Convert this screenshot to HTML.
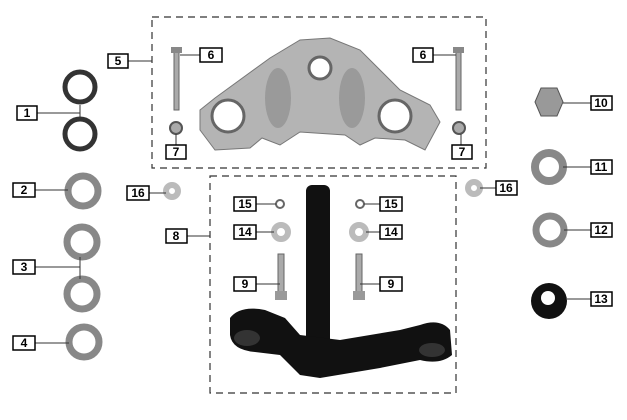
<!DOCTYPE html>
<html><head><style>
body{margin:0;background:#fff}
svg{display:block}
.l{fill:#fff;stroke:#000;stroke-width:1.5}
.t{font:bold 12px "Liberation Sans",sans-serif;text-anchor:middle}
.d{fill:none;stroke:#333;stroke-width:1.2;stroke-dasharray:7,5}
.c{stroke:#333;stroke-width:1}
</style></head><body>
<svg width="627" height="420" viewBox="0 0 627 420">
<rect class="d" x="152" y="17" width="334" height="151"/>
<rect class="d" x="210" y="176" width="246" height="217"/>
<!-- top clamp -->
<path d="M200 110 L215 98 L270 58 L300 40 L330 38 L360 50 L400 90 L430 105 L440 122 L425 150 L405 140 L375 138 L360 145 L345 135 L300 132 L280 145 L262 138 L250 148 L215 150 L200 130 Z" fill="#b4b4b4" stroke="#777"/>
<circle cx="228" cy="116" r="16" fill="#fff" stroke="#666" stroke-width="3"/>
<circle cx="395" cy="116" r="16" fill="#fff" stroke="#666" stroke-width="3"/>
<circle cx="320" cy="68" r="11" fill="#fff" stroke="#666" stroke-width="3"/>
<ellipse cx="278" cy="98" rx="13" ry="30" fill="#9a9a9a"/>
<ellipse cx="352" cy="98" rx="13" ry="30" fill="#9a9a9a"/>
<!-- bolts 6, nuts 7 -->
<rect x="174" y="50" width="5" height="60" fill="#aaa" stroke="#666"/><rect x="171" y="47" width="11" height="6" fill="#888"/>
<rect x="456" y="50" width="5" height="60" fill="#aaa" stroke="#666"/><rect x="453" y="47" width="11" height="6" fill="#888"/>
<circle cx="176" cy="128" r="6" fill="#aaa" stroke="#555" stroke-width="2"/>
<circle cx="459" cy="128" r="6" fill="#aaa" stroke="#555" stroke-width="2"/>
<!-- left parts -->
<circle cx="80" cy="87" r="15" fill="none" stroke="#333" stroke-width="5"/>
<circle cx="80" cy="134" r="15" fill="none" stroke="#333" stroke-width="5"/>
<circle cx="83" cy="191" r="15" fill="#fff" stroke="#888" stroke-width="7"/>
<circle cx="82" cy="242" r="15" fill="#fff" stroke="#888" stroke-width="7"/>
<circle cx="82" cy="294" r="15" fill="#fff" stroke="#888" stroke-width="7"/>
<circle cx="84" cy="342" r="15" fill="#fff" stroke="#888" stroke-width="7"/>
<circle cx="172" cy="191" r="6" fill="#fff" stroke="#bbb" stroke-width="6"/>
<circle cx="474" cy="188" r="6" fill="#fff" stroke="#bbb" stroke-width="6"/>
<!-- right parts -->
<polygon points="535,102 541,88 557,88 563,102 557,116 541,116" fill="#999" stroke="#555"/>
<circle cx="549" cy="167" r="14" fill="#fff" stroke="#888" stroke-width="8"/>
<circle cx="550" cy="230" r="14" fill="#fff" stroke="#888" stroke-width="7"/>
<circle cx="549" cy="301" r="18" fill="#111"/><circle cx="548" cy="298" r="7" fill="#fff"/>
<!-- lower assembly -->
<circle cx="280" cy="204" r="4" fill="none" stroke="#666" stroke-width="2"/>
<circle cx="360" cy="204" r="4" fill="none" stroke="#666" stroke-width="2"/>
<circle cx="281" cy="232" r="7" fill="#fff" stroke="#bbb" stroke-width="6"/>
<circle cx="359" cy="232" r="7" fill="#fff" stroke="#bbb" stroke-width="6"/>
<rect x="278" y="254" width="6" height="40" fill="#aaa" stroke="#666"/><rect x="275" y="291" width="12" height="9" fill="#999"/>
<rect x="356" y="254" width="6" height="40" fill="#aaa" stroke="#666"/><rect x="353" y="291" width="12" height="9" fill="#999"/>
<rect x="306" y="185" width="24" height="160" rx="6" fill="#111"/>
<path d="M230 318 Q240 305 265 310 L285 318 L300 335 L340 340 L400 330 L420 325 Q440 318 450 330 L452 355 Q440 365 420 360 L380 368 L320 378 L300 375 L280 355 L255 352 Q232 350 230 335 Z" fill="#111"/>
<ellipse cx="247" cy="338" rx="13" ry="8" fill="#333"/>
<ellipse cx="432" cy="350" rx="13" ry="7" fill="#333"/>
<!-- connectors -->
<g class="c">
<line x1="128" y1="61" x2="152" y2="61"/>
<line x1="180" y1="55" x2="200" y2="55"/>
<line x1="176" y1="134" x2="176" y2="145"/>
<line x1="37" y1="113" x2="80" y2="113"/><line x1="80" y1="105" x2="80" y2="119"/>
<line x1="35" y1="190" x2="68" y2="190"/>
<line x1="149" y1="193" x2="166" y2="193"/>
<line x1="35" y1="267" x2="80" y2="267"/><line x1="80" y1="257" x2="80" y2="279"/>
<line x1="35" y1="343" x2="69" y2="343"/>
<line x1="187" y1="236" x2="210" y2="236"/>
<line x1="256" y1="204" x2="276" y2="204"/><line x1="364" y1="204" x2="380" y2="204"/>
<line x1="256" y1="232" x2="274" y2="232"/><line x1="366" y1="232" x2="380" y2="232"/>
<line x1="256" y1="284" x2="280" y2="284"/><line x1="360" y1="284" x2="380" y2="284"/>
<line x1="433" y1="55" x2="456" y2="55"/>
<line x1="461" y1="134" x2="461" y2="145"/>
<line x1="480" y1="188" x2="496" y2="188"/>
<line x1="563" y1="103" x2="591" y2="103"/>
<line x1="563" y1="167" x2="591" y2="167"/>
<line x1="564" y1="230" x2="591" y2="230"/>
<line x1="567" y1="299" x2="591" y2="299"/>
</g>
<!-- labels -->
<g>
<rect class="l" x="108" y="54" width="20" height="14"/><text class="t" x="118" y="65">5</text>
<rect class="l" x="200" y="48" width="22" height="14"/><text class="t" x="211" y="59">6</text>
<rect class="l" x="166" y="145" width="20" height="14"/><text class="t" x="176" y="156">7</text>
<rect class="l" x="17" y="106" width="20" height="14"/><text class="t" x="27" y="117">1</text>
<rect class="l" x="13" y="183" width="22" height="14"/><text class="t" x="24" y="194">2</text>
<rect class="l" x="127" y="186" width="22" height="14"/><text class="t" x="138" y="197">16</text>
<rect class="l" x="13" y="260" width="22" height="14"/><text class="t" x="24" y="271">3</text>
<rect class="l" x="13" y="336" width="22" height="14"/><text class="t" x="24" y="347">4</text>
<rect class="l" x="166" y="229" width="21" height="14"/><text class="t" x="176" y="240">8</text>
<rect class="l" x="234" y="197" width="22" height="14"/><text class="t" x="245" y="208">15</text>
<rect class="l" x="234" y="225" width="22" height="14"/><text class="t" x="245" y="236">14</text>
<rect class="l" x="234" y="277" width="22" height="14"/><text class="t" x="245" y="288">9</text>
<rect class="l" x="380" y="197" width="22" height="14"/><text class="t" x="391" y="208">15</text>
<rect class="l" x="380" y="225" width="22" height="14"/><text class="t" x="391" y="236">14</text>
<rect class="l" x="380" y="277" width="22" height="14"/><text class="t" x="391" y="288">9</text>
<rect class="l" x="413" y="48" width="20" height="14"/><text class="t" x="423" y="59">6</text>
<rect class="l" x="452" y="145" width="20" height="14"/><text class="t" x="462" y="156">7</text>
<rect class="l" x="496" y="181" width="21" height="14"/><text class="t" x="506" y="192">16</text>
<rect class="l" x="591" y="96" width="21" height="14"/><text class="t" x="601" y="107">10</text>
<rect class="l" x="591" y="160" width="21" height="14"/><text class="t" x="601" y="171">11</text>
<rect class="l" x="591" y="223" width="21" height="14"/><text class="t" x="601" y="234">12</text>
<rect class="l" x="591" y="292" width="21" height="14"/><text class="t" x="601" y="303">13</text>
</g>
</svg>
</body></html>
